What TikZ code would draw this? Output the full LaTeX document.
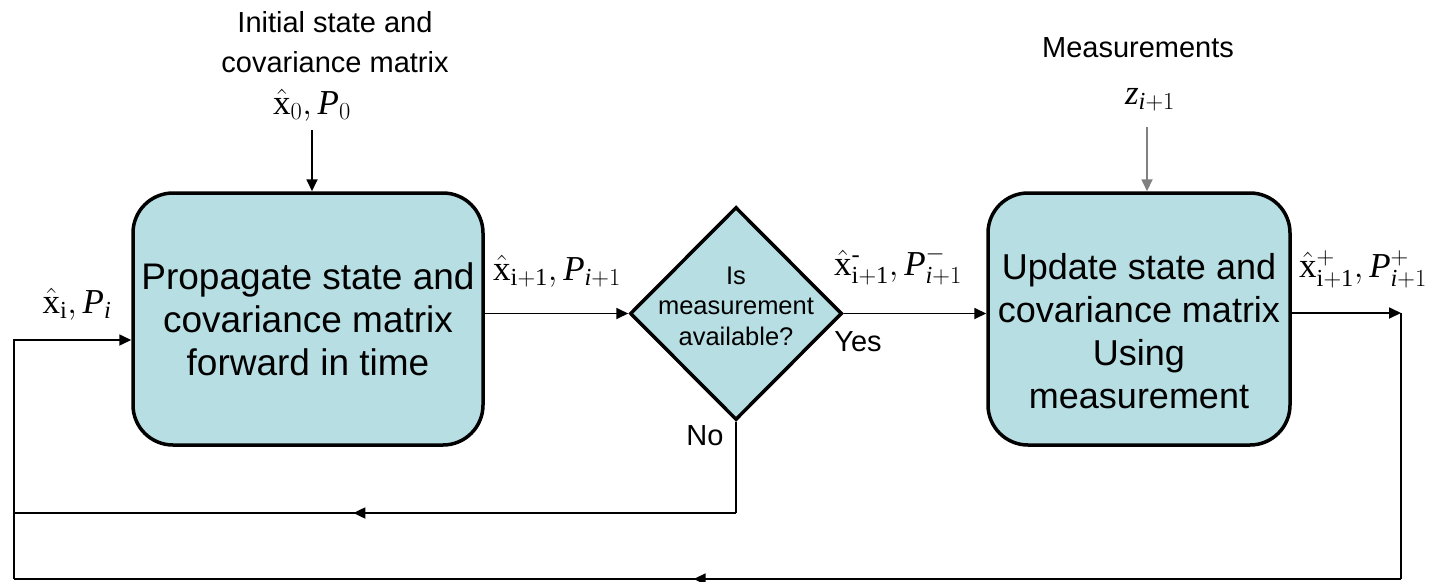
\RequirePackage{fix-cm}
\documentclass[tikz,border=0pt]{standalone}
\usepackage{amsmath}
\usepackage{fontspec}
\setmainfont{Liberation Serif}
\setsansfont{Liberation Sans}
\usetikzlibrary{arrows.meta,shapes.geometric,decorations.markings}
\definecolor{boxfill}{HTML}{B7DEE3}
\definecolor{graywire}{HTML}{808080}
\tikzset{
  proc/.style={draw, line width=3.5pt, fill=boxfill, rounded corners=40pt, minimum height=252pt, inner sep=0pt},
  dec/.style={draw, diamond, line width=3.5pt, fill=boxfill, minimum width=212pt, minimum height=213pt, inner sep=0pt},
  wire/.style={line width=1.8pt},
  conn/.style={wire, -{Triangle[length=12pt,width=11pt]}},
  midarrow/.style={wire, postaction={decorate}, decoration={markings, mark=at position #1 with {\arrow{Triangle[length=12pt,width=11pt]}}}},
  boxtxt/.style={font=\sffamily\fontsize{#1}{43}\selectfont, align=center, inner sep=0pt},
  dectxt/.style={font=\sffamily\fontsize{25.5}{30.5}\selectfont, align=center, inner sep=0pt},
  lbl/.style={font=\sffamily\fontsize{29}{40}\selectfont, align=center, inner sep=0pt},
  mlbl/.style={font=\fontsize{35}{40}\selectfont, inner sep=0pt},
}
\begin{document}
\begin{tikzpicture}[x=1pt, y=-1pt]
\useasboundingbox (0,0) rectangle (1429,581);
% main blocks
\node[proc, minimum width=350pt] (prop) at (308,319) {};
\node[boxtxt=37] (proptxt) at (308,319) {Propagate state and\\covariance matrix\\forward in time};
\node[dec] (dec) at (736,313.5) {};
\node[dectxt] (dectxt) at (736,306) {Is\\measurement\\available?};
\node[proc, minimum width=302pt] (upd) at (1139,319) {};
\node[boxtxt=36] (updtxt) at (1139,331) {Update state and\\covariance matrix\\Using\\measurement};
% top inputs
\node[lbl] (init) at (335,42) {Initial state and\\covariance matrix};
\node[mlbl] (x0) at (312,105) {$\hat{\mathrm{x}}_0,\mathit{P}_0$};
\coordinate (x0a) at (312,130);
\draw[conn] (x0a) -- (prop.north -| x0a);
\node[lbl] (meas) at (1138,48) {Measurements};
\node[mlbl] (z) at (1150,100) {$\mathit{z}_{\mathit{i}+1}$};
\coordinate (za) at (1147,127);
\draw[conn, draw=graywire] (za) -- (upd.north -| za);
% main line
\draw[conn] (prop.east |- dec.west) -- (dec.west);
\draw[conn] (dec.east) -- (upd.west |- dec.east);
\coordinate (c1) at (1401,313);
\coordinate (c2) at (1401,579);
\coordinate (c3) at (14,579);
\coordinate (c4) at (14,340);
\coordinate (n1) at (736,513);
\coordinate (n2) at (14,513);
\draw[conn] (upd.east |- c1) -- (c1);
\draw[wire] (c1) -- (c2);
\draw[midarrow=0.51] (c2) -- (c3);
\draw[conn] (c3) -- (c4) -- (prop.west |- c4);
\draw[wire] (dec.south) -- (n1);
\draw[midarrow=0.53] (n1) -- (n2);
% labels
\node[mlbl] (lxi) at (77,304) {$\hat{\mathrm{x}}_{\mathrm{i}},\mathit{P}_{\mathit{i}}$};
\node[mlbl] (lxp) at (557,271) {$\hat{\mathrm{x}}_{\mathrm{i+1}},\mathit{P}_{\mathit{i}+1}$};
\node[mlbl] (lxm) at (898,266) {$\hat{\mathrm{x}}^{\text{-}}_{\mathrm{i+1}},\mathit{P}^{-}_{\mathit{i}+1}$};
\node[mlbl] (lxpl) at (1363,269) {$\hat{\mathrm{x}}^{+}_{\mathrm{i+1}},\mathit{P}^{+}_{\mathit{i}+1}$};
\node[lbl] (yes) at (858,342) {Yes};
\node[lbl] (no) at (705,436) {No};
\end{tikzpicture}
\end{document}
